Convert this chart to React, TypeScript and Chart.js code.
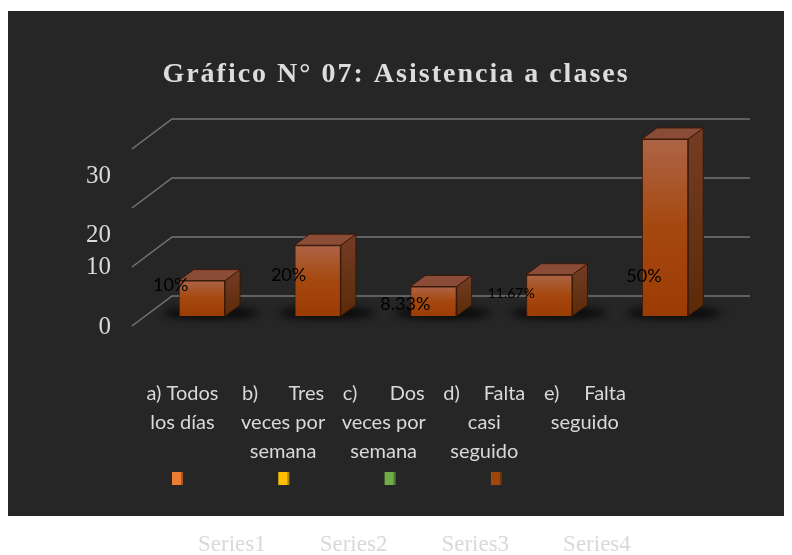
import React, { useEffect, useRef } from 'react';
import { Chart, registerables } from 'chart.js';

Chart.register(...registerables);

// ---------- data ----------
const chartTitle = 'Gráfico N° 07: Asistencia a clases';
const categories: string[][] = [
  ['a) Todos', 'los días'],
  ['b) Tres', 'veces por', 'semana'],
  ['c) Dos', 'veces por', 'semana'],
  ['d) Falta', 'casi', 'seguido'],
  ['e) Falta', 'seguido'],
];
const values: number[] = [6, 12, 5, 7, 30];
const yTicks: number[] = [0, 10, 20, 30];
const seriesNames: string[] = ['Series1', 'Series2', 'Series3', 'Series4'];
const seriesColors: string[] = ['#ED7D31', '#FFC000', '#70AD47', '#9E480E'];

const W = 784;
const H = 544;

export default function App() {
  const ref = useRef<HTMLCanvasElement>(null);

  useEffect(() => {
    document.body.style.overflow = 'hidden';
    const canvas = ref.current;
    if (!canvas) return;

    const total = values.reduce((a, b) => a + b, 0);
    const pctLabels = values.map((v) => `${Math.round((v / total) * 10000) / 100}%`);

    const scene = {
      id: 'scene',
      beforeDraw(chart: any, _args: any, opts: any) {
        const { ctx, chartArea: ca } = chart;
        const y = chart.scales.y;
        ctx.save();
        // background
        ctx.fillStyle = '#262626';
        ctx.fillRect(0, 0, W, opts.darkHeight);
        // title
        ctx.fillStyle = '#dcdcdc';
        ctx.font = 'bold 28px "Liberation Serif", "Times New Roman", serif';
        (ctx as any).letterSpacing = '2px';
        ctx.textAlign = 'center';
        ctx.textBaseline = 'alphabetic';
        ctx.fillText(chartTitle, opts.titleX, opts.titleY);
        (ctx as any).letterSpacing = '0px';
        // 3D gridlines (floor diagonal + back wall)
        const frontLeftX = ca.left + opts.floorFrontDx;
        const backRightX = ca.right + opts.backRightDx;
        ctx.strokeStyle = '#757575';
        ctx.lineWidth = 1.5;
        yTicks.forEach((v) => {
          const fy = y.getPixelForValue(v) + opts.floorFrontDy;
          const bx = frontLeftX + opts.floorDepth[0];
          const by = fy + opts.floorDepth[1];
          ctx.beginPath();
          ctx.moveTo(frontLeftX, fy);
          ctx.lineTo(bx, by);
          ctx.lineTo(backRightX, by);
          ctx.stroke();
        });
        // y tick labels
        ctx.fillStyle = '#d9d9d9';
        ctx.font = '25px "Liberation Serif", "Times New Roman", serif';
        ctx.textAlign = 'right';
        ctx.textBaseline = 'alphabetic';
        yTicks.forEach((v, i) => {
          const fy = y.getPixelForValue(v) + opts.floorFrontDy;
          ctx.fillText(String(v), ca.left + opts.tickLabelDx, fy + opts.tickLabelDy[i]);
        });
        ctx.restore();
      },
      beforeDatasetsDraw(chart: any) {
        const { ctx } = chart;
        const meta = chart.getDatasetMeta(0);
        ctx.save();
        ctx.filter = 'blur(4px)';
        ctx.fillStyle = 'rgba(0,0,0,0.8)';
        meta.data.forEach((bar: any) => {
          const { x, base, width } = bar.getProps(['x', 'base', 'width'], true);
          ctx.beginPath();
          ctx.ellipse(x + 9, base - 3, width / 2 + 25, 6, 0, 0, Math.PI * 2);
          ctx.fill();
        });
        ctx.restore();
      },
      afterDatasetsDraw(chart: any, _args: any, opts: any) {
        const { ctx } = chart;
        const meta = chart.getDatasetMeta(0);
        const [dx, dy] = opts.barDepth;
        ctx.save();
        meta.data.forEach((bar: any) => {
          const { x, y, base, width } = bar.getProps(['x', 'y', 'base', 'width'], true);
          const left = x - width / 2;
          const right = x + width / 2;
          // side face
          const gs = ctx.createLinearGradient(0, y + dy, 0, base);
          gs.addColorStop(0, '#733d25');
          gs.addColorStop(1, '#5c2a08');
          ctx.fillStyle = gs;
          ctx.strokeStyle = 'rgba(55,22,4,0.9)';
          ctx.lineWidth = 1;
          ctx.beginPath();
          ctx.moveTo(right, y);
          ctx.lineTo(right + dx, y + dy);
          ctx.lineTo(right + dx, base + dy);
          ctx.lineTo(right, base);
          ctx.closePath();
          ctx.fill();
          ctx.stroke();
          // top face
          ctx.fillStyle = '#8a4b37';
          ctx.beginPath();
          ctx.moveTo(left, y);
          ctx.lineTo(left + dx, y + dy);
          ctx.lineTo(right + dx, y + dy);
          ctx.lineTo(right, y);
          ctx.closePath();
          ctx.fill();
          ctx.stroke();
        });
        // data labels
        ctx.fillStyle = '#000000';
        ctx.textAlign = 'center';
        ctx.textBaseline = 'middle';
        meta.data.forEach((bar: any, i: number) => {
          const { x, base, width } = bar.getProps(['x', 'base', 'width'], true);
          const [ox, oy] = opts.labelOffsets[i];
          ctx.font = `${opts.labelSizes[i]}px Lato, "Liberation Sans", sans-serif`;
          ctx.fillText(pctLabels[i], x - width / 2 + ox, base + oy);
        });
        ctx.restore();
      },
      afterDraw(chart: any, _args: any, opts: any) {
        const { ctx } = chart;
        ctx.save();
        // category labels (justified text blocks)
        ctx.fillStyle = '#d9d9d9';
        ctx.font = '20px Lato, "Open Sans", sans-serif';
        ctx.textBaseline = 'middle';
        const bw = opts.catBoxWidth;
        categories.forEach((lines, i) => {
          const cx = opts.catX0 + i * opts.catStep;
          lines.forEach((line, li) => {
            const ly = opts.catY0 + li * opts.catLineH;
            const words = line.split(' ');
            const natural = ctx.measureText(line).width;
            const isLast = li === lines.length - 1;
            if (!isLast && words.length > 1 && natural < bw * 0.85) {
              const wordsW = words.reduce((s, w) => s + ctx.measureText(w).width, 0);
              const gap = (bw - wordsW) / (words.length - 1);
              let px = cx - bw / 2;
              ctx.textAlign = 'left';
              words.forEach((w) => {
                ctx.fillText(w, px, ly);
                px += ctx.measureText(w).width + gap;
              });
            } else {
              ctx.textAlign = 'center';
              ctx.fillText(line, cx, ly);
            }
          });
        });
        // legend swatches
        seriesColors.forEach((c, i) => {
          const sx = opts.swX0 + i * opts.swStep;
          ctx.fillStyle = c;
          ctx.fillRect(sx, opts.swY, 11, 13);
          ctx.fillStyle = 'rgba(0,0,0,0.3)';
          ctx.fillRect(sx + 9, opts.swY, 2, 13);
        });
        // legend texts (below the dark panel)
        ctx.fillStyle = '#d9d9d9';
        ctx.font = '23px "Liberation Serif", "Times New Roman", serif';
        ctx.textAlign = 'left';
        ctx.textBaseline = 'alphabetic';
        seriesNames.forEach((s, i) => {
          ctx.fillText(s, opts.serX0 + i * opts.serStep, opts.serY);
        });
        ctx.restore();
      },
    };

    const chart = new Chart(canvas, {
      type: 'bar',
      data: {
        labels: categories,
        datasets: [
          {
            label: seriesNames[0],
            data: values,
            backgroundColor: (c: any) => {
              const ch = c.chart;
              if (!ch.chartArea || c.type !== 'data') return '#a5480f';
              const ys = ch.scales.y;
              const top = ys.getPixelForValue(c.raw as number);
              const base = ys.getPixelForValue(0);
              const g = ch.ctx.createLinearGradient(0, top, 0, base);
              g.addColorStop(0, '#ad6446');
              g.addColorStop(0.5, '#a5480f');
              g.addColorStop(1, '#9b3c04');
              return g;
            },
            borderColor: 'rgba(70,28,4,0.9)',
            borderWidth: 1,
            barPercentage: 0.4,
            categoryPercentage: 1,
          },
        ],
      },
      options: {
        responsive: false,
        animation: false,
        layout: { padding: { left: 136, right: 69, top: 69, bottom: 239 } },
        scales: {
          x: { display: false },
          y: { display: false, min: 0, max: 40 },
        },
        plugins: {
          legend: { display: false },
          title: { display: false },
          tooltip: { enabled: false },
          scene: {
            darkHeight: 505,
            titleX: 388,
            titleY: 71,
            floorFrontDx: -12,
            floorFrontDy: 10,
            floorDepth: [40, -30],
            backRightDx: 27,
            tickLabelDx: -33,
            tickLabelDy: [8, 7, 34, 34],
            barDepth: [15, -11],
            labelOffsets: [[-8, -31], [-6, -41], [-5, -12], [-15, -23], [2, -40]],
            labelSizes: [18, 18, 18, 14, 18],
            catX0: 174.5,
            catStep: 100.6,
            catY0: 383,
            catLineH: 29,
            catBoxWidth: 82,
            swX0: 164,
            swStep: 106.3,
            swY: 461,
            serX0: 190,
            serStep: 121.7,
            serY: 540,
          },
        } as any,
      },
      plugins: [scene as any],
    });

    return () => chart.destroy();
  }, []);

  return (
    <div style={{ paddingTop: 3, width: W, height: H }}>
      <canvas ref={ref} width={W} height={H} style={{ display: 'block', width: W, height: H }} />
    </div>
  );
}
